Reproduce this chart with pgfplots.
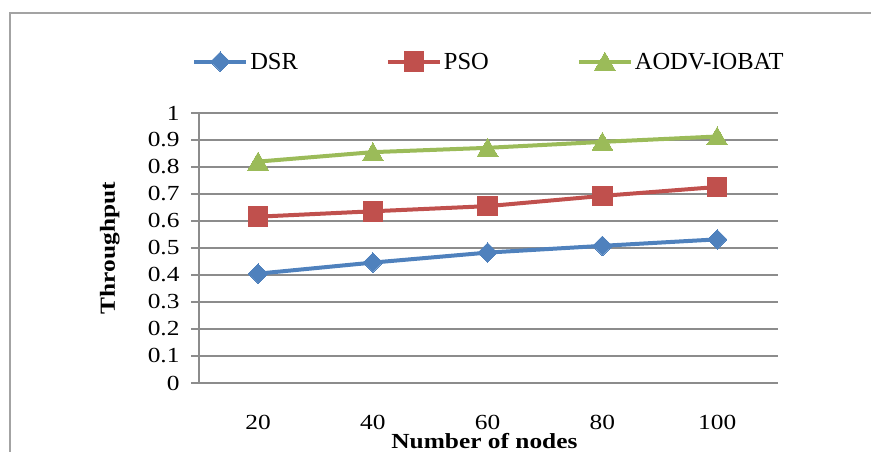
\documentclass[border=0pt]{standalone}
\usepackage{fontspec}
\setmainfont{Liberation Serif}
\newfontfamily\tickfont{Liberation Serif}[FakeStretch=1.18]
\newfontfamily\legfont{Liberation Serif}[FakeStretch=1.0]
\usepackage{pgfplots}
\pgfplotsset{compat=1.18}
\definecolor{exblue}{HTML}{4F81BD}
\definecolor{exred}{HTML}{C0504D}
\definecolor{exgreen}{HTML}{9BBB59}
\definecolor{gridgray}{HTML}{8C8C8C}
\begin{document}
\begin{tikzpicture}[x=1pt,y=1pt]
\useasboundingbox (0,0) rectangle (871,452);
\draw[color=gridgray!80, line width=2pt] (10,0) -- (10,439) -- (871,439);
\begin{axis}[
  at={(199pt,69pt)}, anchor=south west,
  scale only axis, width=579pt, height=270pt,
  xmin=9.7, xmax=110.6, ymin=0, ymax=1,
  xtick={20,40,60,80,100},
  ytick={0,0.1,...,1.0},
  yticklabels={0,0.1,0.2,0.3,0.4,0.5,0.6,0.7,0.8,0.9,1},
  axis x line*=bottom,
  x axis line style={draw=none},
  xtick style={draw=none},
  axis y line*=left,
  y axis line style={gridgray, line width=1.5pt, -},
  ymajorgrids,
  grid style={gridgray, line width=1.5pt},
  major tick length=8pt,
  tick align=outside,
  ytick style={gridgray, line width=1.5pt},
  tick label style={font=\tickfont\fontsize{21.5}{23}\selectfont},
  /pgf/number format/assume math mode=true,
  yticklabel style={xshift=-8pt},
  xticklabel style={anchor=center, yshift=-31pt},
  xlabel={\tickfont\bfseries\fontsize{21.5}{23}\selectfont Number of nodes},
  ylabel={\tickfont\bfseries\fontsize{21.5}{23}\selectfont Throughput},
  x label style={at={(axis description cs:0.493,-0.215)}, anchor=center},
  y label style={at={(axis description cs:-0.154,0.5)}, anchor=center, rotate=0},
  legend columns=3,
  legend style={draw=none, fill=none, at={(axis description cs:-0.012,1.19)}, anchor=west,
    font=\legfont\fontsize{24.5}{26}\selectfont, inner sep=0pt,
    /tikz/every even column/.append style={column sep=86pt}},
  legend image code/.code={\draw[mark repeat=2, mark phase=2] plot coordinates {(0pt,0pt) (26pt,0pt) (52pt,0pt)};},
  clip=false,
]
\pgfplotsset{every axis plot/.append style={line width=4pt}}
\addplot[color=exblue, mark=square*, mark size=6.9pt, mark options={rotate=45, solid, line width=0pt}] coordinates {(20,0.405) (40,0.446) (60,0.483) (80,0.508) (100,0.532)};
\addlegendentry{DSR}
\addplot[color=exred, mark=square*, mark size=9.8pt, mark options={solid, line width=0pt}] coordinates {(20,0.616) (40,0.636) (60,0.655) (80,0.693) (100,0.726)};
\addlegendentry{PSO}
\addplot[color=exgreen, mark=triangle*, mark size=12pt, mark options={solid, line width=0pt, yshift=-2.5pt}] coordinates {(20,0.820) (40,0.855) (60,0.871) (80,0.893) (100,0.913)};
\addlegendentry{AODV-IOBAT}
\end{axis}
\end{tikzpicture}
\end{document}
